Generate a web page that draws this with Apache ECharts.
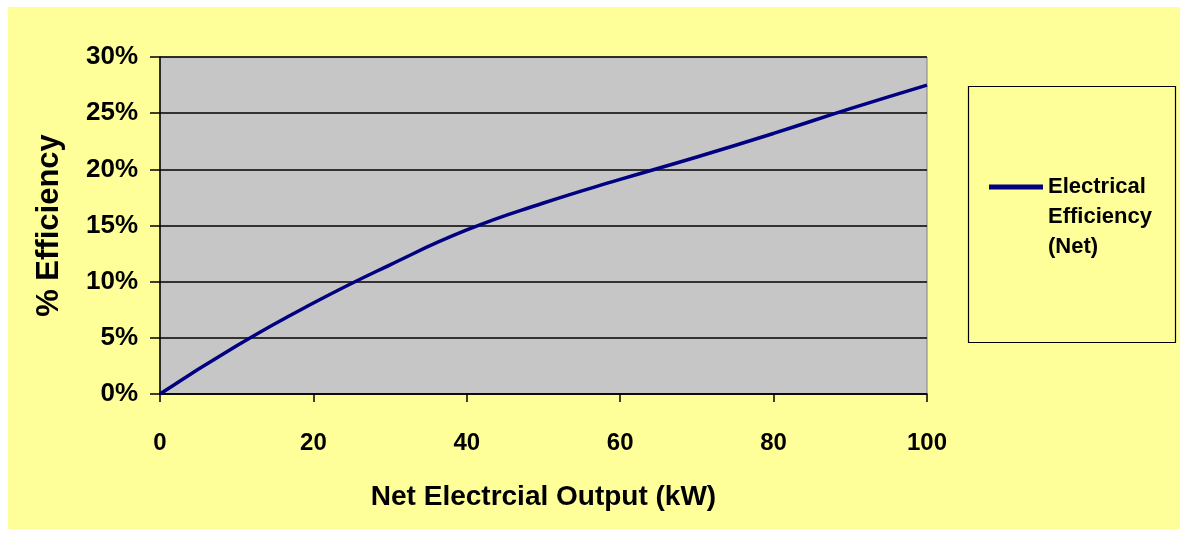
<!DOCTYPE html>
<html>
<head>
<meta charset="utf-8">
<script src="https://cdn.jsdelivr.net/npm/echarts@6/dist/echarts.min.js"></script>
<style>
  html, body { margin: 0; padding: 0; background: #ffffff; }
  #chart { width: 1185px; height: 535px; }
</style>
</head>
<body>
<div id="chart"></div>
<script>
// Net electrical output (kW) and the matching net electrical efficiency (%)
const outputKW = [0, 10, 20, 30, 40, 50, 60, 70, 80, 90, 100];
const efficiencyPct = [0, 4.3, 8.1, 11.5, 14.6, 17.0, 19.1, 21.1, 23.2, 25.4, 27.5];
const xTicks = [0, 20, 40, 60, 80, 100];
const yTicks = [0, 5, 10, 15, 20, 25, 30];
const seriesName = 'Electrical Efficiency (Net)';

const chart = echarts.init(document.getElementById('chart'));
const font = '"Liberation Sans", Arial, sans-serif';

chart.setOption({
  backgroundColor: '#ffffff',
  animation: false,
  graphic: [
    { type: 'rect', z: -10, shape: { x: 8, y: 7, width: 1172, height: 522 },
      style: { fill: '#FFFF99' } },
    { type: 'rect', z: 5, shape: { x: 968.5, y: 86.5, width: 207, height: 256 },
      style: { fill: 'none', stroke: '#000000', lineWidth: 1.2 } }
  ],
  grid: {
    left: 160, top: 57, right: 258, bottom: 141,
    show: true, backgroundColor: '#C6C6C6', borderColor: '#808080', borderWidth: 1
  },
  legend: {
    left: 989, top: 112, padding: 0,
    icon: 'rect', itemWidth: 54, itemHeight: 5, itemGap: 8,
    data: [{ name: seriesName }],
    // two blank lines first so the line icon sits beside the first text line
    formatter: () => '\n\nElectrical\nEfficiency\n(Net)',
    textStyle: { fontFamily: font, fontWeight: 'bold', fontSize: 22, lineHeight: 30,
      color: '#000000' }
  },
  xAxis: {
    type: 'value', min: xTicks[0], max: xTicks[xTicks.length - 1], interval: 20,
    name: 'Net Electrcial Output (kW)', nameLocation: 'middle', nameGap: 89,
    nameTextStyle: { fontFamily: font, fontWeight: 'bold', fontSize: 28, color: '#000000' },
    axisLine: { show: true, lineStyle: { color: '#000000', width: 1.5 } },
    axisTick: { show: true, length: 8, lineStyle: { color: '#000000', width: 1.5 } },
    axisLabel: { fontFamily: font, fontWeight: 'bold', fontSize: 24, color: '#000000', margin: 37 },
    splitLine: { show: false }
  },
  yAxis: {
    type: 'value', min: yTicks[0], max: yTicks[yTicks.length - 1], interval: 5,
    name: '% Efficiency', nameLocation: 'middle', nameGap: 95, nameRotate: 90,
    nameTextStyle: { fontFamily: font, fontWeight: 'bold', fontSize: 31, color: '#000000' },
    axisLine: { show: true, lineStyle: { color: '#000000', width: 1.5 } },
    axisTick: { show: true, length: 10, lineStyle: { color: '#000000', width: 1.5 } },
    axisLabel: { fontFamily: font, fontWeight: 'bold', fontSize: 26, color: '#000000',
      margin: 22, formatter: '{value}%' },
    splitLine: { show: true, lineStyle: { color: '#000000', width: 1.5 } }
  },
  series: [{
    name: seriesName,
    type: 'line',
    smooth: 0.5,
    symbol: 'none',
    data: outputKW.map((x, i) => [x, efficiencyPct[i]]),
    lineStyle: { color: '#000080', width: 3.5 },
    itemStyle: { color: '#000080' },
    z: 10
  }]
});
</script>
</body>
</html>
